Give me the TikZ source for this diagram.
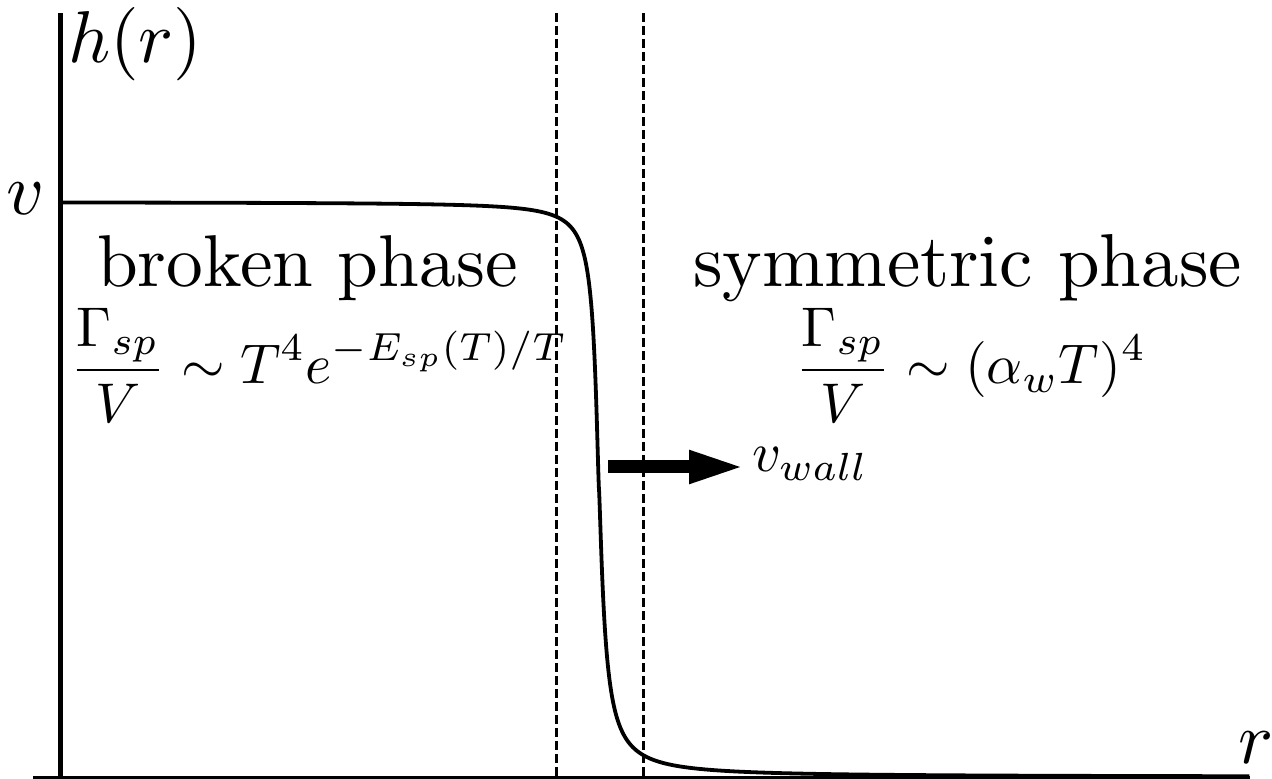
\documentclass[tikz,border=0pt]{standalone}
\usetikzlibrary{arrows.meta}
\begin{document}
\begin{tikzpicture}[x=0.5pt,y=-0.5pt,
  axis/.style={line width=2.25pt},
  baseaxis/.style={line width=1.5pt},
  guide/.style={line width=1.5pt, dash pattern=on 4.5pt off 2pt},
  curve/.style={line width=1.9pt, line join=round},
  wallarrow/.style={line width=6.5pt, -{Triangle[length=28pt,width=15pt]}},
  lbl/.style={inner sep=0pt, outer sep=0pt, anchor=base west}]
\useasboundingbox (0,0) rectangle (1272,779);
% axes
\coordinate (ytop) at (60.5,13);
\coordinate (ybot) at (60.5,779);
\coordinate (xl) at (33,777.5);
\coordinate (xr) at (1250,777.5);
\draw[axis] (ybot) -- (ytop);
\draw[baseaxis] (xl) -- (xr);
% dashed wall boundaries
\coordinate (d1t) at (556,13);
\coordinate (d1b) at (556,779);
\coordinate (d2t) at (643,13);
\coordinate (d2b) at (643,779);
\draw[guide] (d1t) -- (d1b);
\draw[guide] (d2t) -- (d2b);
% profile
\draw[curve] plot[variable=\t, domain=23.17:0.2, samples=160, smooth]
   ({599-\t*\t},{202+287.5/(1+((\t*\t)/5.06)^1.37)})
 -- plot[variable=\t, domain=0.2:25.5, samples=160, smooth]
   ({599+\t*\t},{777-287.5/(1+((\t*\t)/6.19)^1.27)});
% wall velocity arrow
\coordinate (as) at (608,467);
\coordinate (ae) at (745,467);
\draw[wallarrow] (as) -- (ae);
% labels
\node[lbl] (hr) at (68,63) {\scalebox{3.67}{$h(r)$}};
\node[lbl] (vlab) at (6,215) {\scalebox{3.67}{$v$}};
\node[lbl] (rlab) at (1238,763) {\scalebox{3.67}{$r$}};
\node[lbl] (broken) at (97,287) {\scalebox{3.67}{broken phase}};
\node[lbl] (sym) at (693,287) {\scalebox{3.75}{symmetric phase}};
\node[lbl] (f1) at (70,384) {\scalebox{2.8}{$\displaystyle\frac{\Gamma_{sp}}{V}\sim T^4e^{-E_{sp}(T)/T}$}};
\node[lbl] (f2) at (795,384) {\scalebox{2.8}{$\displaystyle\frac{\Gamma_{sp}}{V}\sim(\alpha_wT)^4$}};
\node[lbl] (vw) at (752,472) {\scalebox{2.8}{$v_{wall}$}};
\end{tikzpicture}
\end{document}
